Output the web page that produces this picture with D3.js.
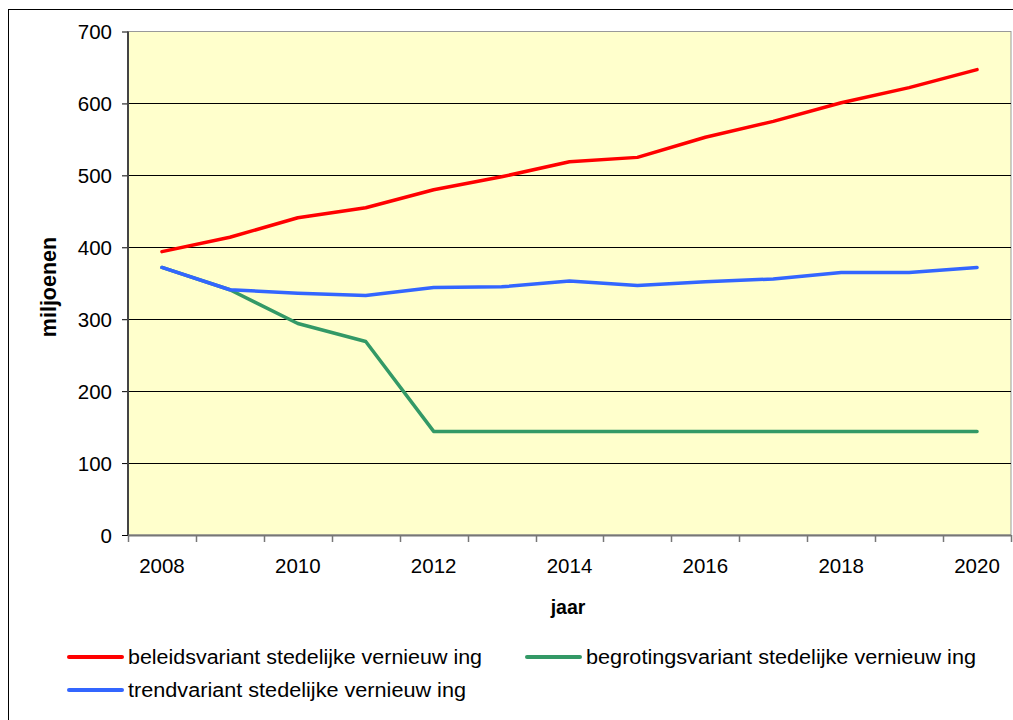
<!DOCTYPE html>
<html>
<head>
<meta charset="utf-8">
<script src="https://cdn.jsdelivr.net/npm/d3@7"></script>
<style>
  body { margin: 0; background: #fff; }
  text { font-family: "Liberation Sans", Arial, sans-serif; fill: #000; }
  .axis path { display: none; }
</style>
</head>
<body>
<div id="chart"></div>
<script>

var years = [2008, 2009, 2010, 2011, 2012, 2013, 2014, 2015, 2016, 2017, 2018, 2019, 2020];
var yearLabels = [2008, 2010, 2012, 2014, 2016, 2018, 2020];
var yTicks = [0, 100, 200, 300, 400, 500, 600, 700];

var beleid = [394, 414, 441, 455, 480, 498, 519, 525, 553, 575, 601, 622, 647];
var begroting = [372, 341, 294, 269, 144, 144, 144, 144, 144, 144, 144, 144, 144];
var trend = [372, 341, 336, 333, 344, 345, 353, 347, 352, 356, 365, 365, 372];

var seriesNames = [
  "beleidsvariant stedelijke vernieuw ing",
  "begrotingsvariant stedelijke vernieuw ing",
  "trendvariant stedelijke vernieuw ing"
];
var seriesColors = ["#ff0000", "#339966", "#3366ff"];

var width = 1013, height = 720;
var plot = { left: 128, right: 1011, top: 31.5, bottom: 535 };

var svg = d3.select("#chart")
  .append("svg")
  .attr("width", width)
  .attr("height", height);

// outer chart border
svg.append("rect")
  .attr("x", 8.5).attr("y", 9.5)
  .attr("width", 1020).attr("height", 730)
  .attr("fill", "#fff")
  .attr("stroke", "#000")
  .attr("stroke-width", 1);

var x = d3.scaleBand()
  .domain(years)
  .range([plot.left, plot.right])
  .padding(0);

var y = d3.scaleLinear()
  .domain([0, 700])
  .range([plot.bottom, plot.top]);

function cx(i) { return x(years[i]) + x.bandwidth() / 2; }

// plot area
svg.append("rect")
  .attr("x", plot.left).attr("y", plot.top)
  .attr("width", plot.right - plot.left)
  .attr("height", plot.bottom - plot.top)
  .attr("fill", "#ffffcc")
  .attr("stroke", "#999")
  .attr("stroke-width", 1);

// gridlines
svg.append("g")
  .selectAll("line")
  .data(yTicks.filter(function(d){ return d > 0 && d < 700; }))
  .enter().append("line")
  .attr("x1", plot.left).attr("x2", plot.right)
  .attr("y1", function(d){ return Math.round(y(d)) + 0.5; })
  .attr("y2", function(d){ return Math.round(y(d)) + 0.5; })
  .attr("stroke", "#000")
  .attr("stroke-width", 1);

// y axis
var yAxis = d3.axisLeft(y)
  .tickValues(yTicks)
  .tickSize(6)
  .tickPadding(10);

var gy = svg.append("g")
  .attr("class", "axis")
  .attr("transform", "translate(" + plot.left + ",0)")
  .call(yAxis);
gy.selectAll(".tick line").attr("stroke", "#000");
gy.selectAll(".tick text")
  .style("font-size", "20.5px")
  .attr("dy", "0.36em");

svg.append("line")
  .attr("x1", plot.left).attr("x2", plot.left)
  .attr("y1", plot.top).attr("y2", plot.bottom)
  .attr("stroke", "#444")
  .attr("stroke-width", 2);

// x axis
svg.append("line")
  .attr("x1", plot.left).attr("x2", plot.right)
  .attr("y1", plot.bottom + 0.5).attr("y2", plot.bottom + 0.5)
  .attr("stroke", "#777")
  .attr("stroke-width", 2);

var tickPos = years.map(function(d){ return x(d); }).concat([plot.right]);
svg.append("g")
  .selectAll("line")
  .data(tickPos)
  .enter().append("line")
  .attr("x1", function(d){ return Math.round(d) + 0.5; })
  .attr("x2", function(d){ return Math.round(d) + 0.5; })
  .attr("y1", plot.bottom)
  .attr("y2", plot.bottom + 7)
  .attr("stroke", "#777")
  .attr("stroke-width", 1.5);

svg.append("g")
  .selectAll("text")
  .data(yearLabels)
  .enter().append("text")
  .attr("x", function(d){ return x(d) + x.bandwidth() / 2; })
  .attr("y", 573)
  .attr("text-anchor", "middle")
  .style("font-size", "20.5px")
  .text(function(d){ return d; });

// axis titles
svg.append("text")
  .attr("x", 568)
  .attr("y", 614)
  .attr("text-anchor", "middle")
  .style("font-size", "19.5px")
  .style("font-weight", "bold")
  .text("jaar");

svg.append("text")
  .attr("transform", "translate(56,287) rotate(-90)")
  .attr("text-anchor", "middle")
  .style("font-size", "21.5px")
  .style("font-weight", "bold")
  .text("miljoenen");

// lines
var line = d3.line()
  .x(function(d, i){ return cx(i); })
  .y(function(d){ return y(d); });

var allSeries = [beleid, begroting, trend];
var drawOrder = [1, 2, 0];

svg.append("g")
  .selectAll("path")
  .data(drawOrder)
  .enter().append("path")
  .attr("d", function(k){ return line(allSeries[k]); })
  .attr("fill", "none")
  .attr("stroke", function(k){ return seriesColors[k]; })
  .attr("stroke-width", 3.5)
  .attr("stroke-linejoin", "round")
  .attr("stroke-linecap", "round");

// legend
var legendPos = [
  { x: 67, y: 657, w: 354 },
  { x: 525, y: 657, w: 390 },
  { x: 67, y: 690, w: 338 }
];

var legend = svg.append("g")
  .selectAll("g")
  .data(seriesNames)
  .enter().append("g")
  .attr("transform", function(d, i){ return "translate(" + legendPos[i].x + "," + legendPos[i].y + ")"; });

legend.append("line")
  .attr("x1", 2).attr("x2", 55)
  .attr("y1", 0).attr("y2", 0)
  .attr("stroke", function(d, i){ return seriesColors[i]; })
  .attr("stroke-width", 4)
  .attr("stroke-linecap", "round");

legend.append("text")
  .attr("x", 61)
  .attr("y", 7)
  .style("font-size", "20px")
  .attr("textLength", function(d, i){ return legendPos[i].w; })
  .attr("lengthAdjust", "spacingAndGlyphs")
  .text(function(d){ return d; });

</script>
</body>
</html>
